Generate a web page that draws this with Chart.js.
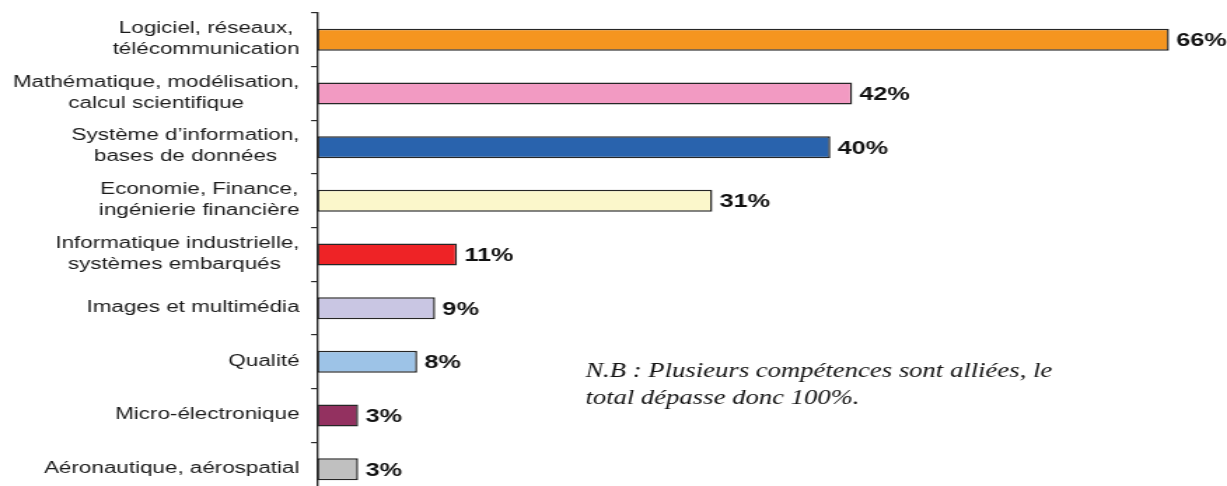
<!DOCTYPE html>
<html>
<head>
<meta charset="utf-8">
<script src="https://cdn.jsdelivr.net/npm/chart.js@4.4.1/dist/chart.umd.min.js"></script>
<style>
html, body { margin: 0; padding: 0; background: #ffffff; overflow: hidden; width: 1227px; height: 486px; }
#stretch { width: 876px; height: 496px; transform: scaleX(1.4007); transform-origin: 0 0; }
canvas { display: block; }
</style>
</head>
<body>
<div id="stretch"><canvas id="chart" width="876" height="496"></canvas></div>
<script>
// ---- data ----
const categories = [
  ["Logiciel, réseaux,", "télécommunication"],
  ["Mathématique, modélisation,", "calcul scientifique"],
  ["Système d’information,", "bases de données"],
  ["Economie, Finance,", "ingénierie financière"],
  ["Informatique industrielle,", "systèmes embarqués "],
  ["Images et multimédia"],
  ["Qualité"],
  ["Micro-électronique"],
  ["Aéronautique, aérospatial"]
];
const values = [66.4, 41.7, 40, 30.8, 10.9, 9.2, 7.8, 3.2, 3.2];
const valueLabels = ["66%", "42%", "40%", "31%", "11%", "9%", "8%", "3%", "3%"];
const barColors = ["#F5951F", "#F29AC2", "#2963AD", "#FBF7CB", "#EE2326", "#C9C6E3", "#9DC3E7", "#933160", "#C0C0C0"];
const noteLines = ["N.B : Plusieurs compétences sont alliées, le", "total dépasse donc 100%."];

// ---- plugins ----
const categoryLabelPlugin = {
  id: 'categoryLabels',
  afterDraw(chart) {
    const ctx = chart.ctx;
    const yScale = chart.scales.y;
    const labels = yScale.getLabels();
    const rightEdge = chart.chartArea.left - 12.6;
    ctx.save();
    ctx.font = '16px "Liberation Sans", Arial, sans-serif';
    ctx.fillStyle = '#1a1a1a';
    ctx.textAlign = 'center';
    ctx.textBaseline = 'alphabetic';
    labels.forEach((lines, i) => {
      const arr = Array.isArray(lines) ? lines : [lines];
      const widest = Math.max(...arr.map(l => ctx.measureText(l).width));
      const cx = rightEdge - widest / 2;
      const cy = yScale.getPixelForValue(i);
      const n = arr.length;
      arr.forEach((line, j) => {
        ctx.fillText(line, cx, cy + 3.7 + (j - (n - 1) / 2) * 20.8);
      });
    });
    ctx.restore();
  }
};

const valueLabelPlugin = {
  id: 'valueLabels',
  afterDatasetsDraw(chart) {
    const ctx = chart.ctx;
    const meta = chart.getDatasetMeta(0);
    ctx.save();
    ctx.font = 'bold 18px "Liberation Sans", Arial, sans-serif';
    ctx.fillStyle = '#111111';
    ctx.textAlign = 'left';
    ctx.textBaseline = 'alphabetic';
    meta.data.forEach((bar, i) => {
      ctx.fillText(valueLabels[i], bar.x + 5.2, bar.y + 6.5);
    });
    ctx.restore();
  }
};

const notePlugin = {
  id: 'note',
  afterDraw(chart) {
    const ctx = chart.ctx;
    const x0 = chart.chartArea.left + 191.5;
    ctx.save();
    ctx.translate(x0, 0);
    ctx.scale(0.907, 1);
    ctx.font = 'italic 21px "Liberation Serif", "Times New Roman", serif';
    ctx.fillStyle = '#111111';
    ctx.textAlign = 'left';
    ctx.textBaseline = 'alphabetic';
    ctx.fillText(noteLines[0], 0, 377);
    ctx.fillText(noteLines[1], 0, 404);
    ctx.restore();
  }
};

new Chart(document.getElementById('chart'), {
  type: 'bar',
  data: {
    labels: categories,
    datasets: [{
      data: values,
      backgroundColor: barColors,
      borderColor: '#262626',
      borderWidth: 1.5,
      borderSkipped: false,
      barPercentage: 0.41,
      categoryPercentage: 1.0
    }]
  },
  options: {
    indexAxis: 'y',
    responsive: false,
    animation: false,
    events: [],
    layout: { padding: { top: 13, right: 8.4, bottom: 0, left: 0 } },
    plugins: {
      legend: { display: false },
      tooltip: { enabled: false },
      title: { display: false }
    },
    scales: {
      x: {
        display: false,
        min: 0,
        max: 70
      },
      y: {
        position: 'left',
        offset: true,
        grid: {
          offset: true,
          drawOnChartArea: false,
          drawTicks: true,
          tickLength: 4.3,
          color: '#2a2a2a',
          lineWidth: 1.2
        },
        border: { display: true, color: '#2a2a2a', width: 1.4 },
        ticks: { display: false },
        afterFit(scale) { scale.width = 226.4; }
      }
    }
  },
  plugins: [categoryLabelPlugin, valueLabelPlugin, notePlugin]
});
</script>
</body>
</html>
